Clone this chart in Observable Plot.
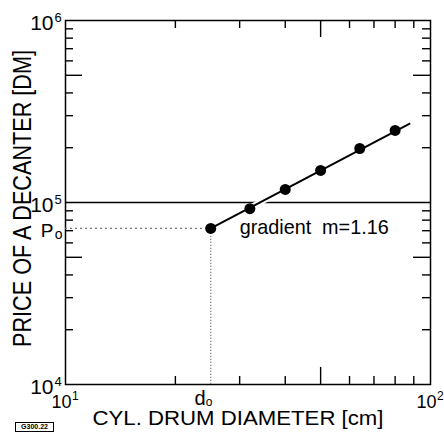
<!DOCTYPE html>
<html>
<head>
<meta charset="utf-8">
<script src="https://cdn.jsdelivr.net/npm/d3@7"></script>
<script src="https://cdn.jsdelivr.net/npm/@observablehq/plot@0.6"></script>
<style>
  html, body { margin: 0; padding: 0; background: #fff; }
  #chart { position: relative; width: 444px; height: 434px; }
  .tag {
    position: absolute; left: 15px; top: 422px; width: 37px; height: 8px;
    border: 1px solid #000; font: bold 7px/8px "Liberation Sans", sans-serif;
    text-align: center; color: #000;
  }
</style>
</head>
<body>
<div id="chart"><div class="tag">G300.22</div></div>
<script>
// Measured decanter prices versus cylindrical drum diameter
const diameters = [25, 32, 40, 50, 64, 80];                    // cm
const prices = [72000, 92500, 118000, 150000, 198000, 249000]; // DM

// Regression line through the measurements
const fitDiameters = [25, 88];
const fitPrices = [72000, 272000];

// Reference level drawn across the chart
const referencePrice = [100000];

// Decade labels
const xDecades = [10, 100];
const xExponents = ["1", "2"];
const yDecades = [1e4, 1e5, 1e6];
const yExponents = ["4", "5", "6"];

// Minor and mid-decade ticks
const xMinor = [20, 30, 40, 60, 70, 80, 90];
const xMid = [50];
const yMinor = [2e4, 3e4, 4e4, 6e4, 7e4, 8e4, 9e4, 2e5, 3e5, 4e5, 6e5, 7e5, 8e5, 9e5];
const yMid = [5e4, 5e5];

const xTitle = "CYL. DRUM DIAMETER [cm]";
const yTitle = "PRICE OF A DECANTER [DM]";
const gradientLabel = "gradient\u00a0\u00a0m=1.16";

const fitLine = fitDiameters.map((d, i) => ({d, p: fitPrices[i]}));
const points = diameters.map((d, i) => ({d, p: prices[i]}));
const p0 = points[0];

const width = 444, height = 434;
const margin = {top: 20, right: 14, bottom: 50, left: 65};
const frameW = width - margin.left - margin.right;
const frameH = height - margin.top - margin.bottom;
const xDomain = [10, 100];
const yDomain = [1e4, 1e6];
const font = "Liberation Sans, Arial, sans-serif";

// Tick lengths in pixels expressed as ratios along the log axes
const xPxPerDecade = frameW / Math.log10(xDomain[1] / xDomain[0]);
const yPxPerDecade = frameH / Math.log10(yDomain[1] / yDomain[0]);
const xRatio = len => Math.pow(10, len / xPxPerDecade);
const yRatio = len => Math.pow(10, len / yPxPerDecade);

// Inward-pointing ticks on all four sides of the frame
const tickMarks = [];
for (const [ticks, len] of [[xMinor, 8], [xMid, 17]]) {
  tickMarks.push(Plot.ruleX(ticks, {x: d => d, y1: yDomain[0], y2: yDomain[0] * yRatio(len), stroke: "#000", strokeWidth: 1.4}));
  tickMarks.push(Plot.ruleX(ticks, {x: d => d, y1: yDomain[1] / yRatio(len), y2: yDomain[1], stroke: "#000", strokeWidth: 1.4}));
}
for (const [ticks, len] of [[yMinor, 8], [yMid, 17]]) {
  tickMarks.push(Plot.ruleY(ticks, {y: d => d, x1: xDomain[0], x2: xDomain[0] * xRatio(len), stroke: "#000", strokeWidth: 1.4}));
  tickMarks.push(Plot.ruleY(ticks, {y: d => d, x1: xDomain[1] / xRatio(len), x2: xDomain[1], stroke: "#000", strokeWidth: 1.4}));
}

const chart = Plot.plot({
  width,
  height,
  marginLeft: margin.left,
  marginRight: margin.right,
  marginTop: margin.top,
  marginBottom: margin.bottom,
  style: {background: "#fff", fontFamily: font, color: "#000"},
  x: {type: "log", domain: xDomain, axis: null},
  y: {type: "log", domain: yDomain, axis: null},
  marks: [
    Plot.frame({stroke: "#000", strokeWidth: 1.5}),
    ...tickMarks,
    // reference level
    Plot.ruleY(referencePrice, {stroke: "#000", strokeWidth: 1.5}),
    // projections of the first point onto the axes
    Plot.ruleY([p0.p], {x1: 10, x2: p0.d, stroke: "#777", strokeWidth: 1.2, strokeDasharray: "2,3"}),
    Plot.ruleX([p0.d], {y1: 1e4, y2: p0.p, stroke: "#777", strokeWidth: 1.2, strokeDasharray: "1.2,1.8"}),
    // regression line with a white gap where it crosses the reference level
    Plot.line(fitLine, {x: "d", y: "p", stroke: "#fff", strokeWidth: 6, strokeLinecap: "butt"}),
    Plot.line(fitLine, {x: "d", y: "p", stroke: "#000", strokeWidth: 2, strokeLinecap: "butt"}),
    Plot.dot(points, {x: "d", y: "p", r: 5.5, fill: "#000"}),
    // gradient annotation
    Plot.text([gradientLabel], {x: 30, y: p0.p, text: d => d, textAnchor: "start", dy: -1, fontSize: 21}),
    // P0 and d0 markers
    Plot.text(["P"], {y: [p0.p], frameAnchor: "left", text: d => d, textAnchor: "end", dx: -12, dy: 2, fontSize: 19}),
    Plot.text(["o"], {y: [p0.p], frameAnchor: "left", text: d => d, textAnchor: "end", dx: -3, dy: 6, fontSize: 14}),
    Plot.text(["d"], {x: [p0.d], frameAnchor: "bottom", lineAnchor: "middle", text: d => d, textAnchor: "end", dx: -5, dy: 14, fontSize: 20}),
    Plot.text(["o"], {x: [p0.d], frameAnchor: "bottom", lineAnchor: "middle", text: d => d, textAnchor: "start", dx: -5, dy: 18, fontSize: 12}),
    // decade labels, y
    Plot.text(yDecades, {y: d => d, frameAnchor: "left", text: () => "10", textAnchor: "end", dx: -12, dy: 3, fontSize: 21}),
    Plot.text(yDecades, {y: d => d, frameAnchor: "left", text: (d, i) => yExponents[i], textAnchor: "start", dx: -11, dy: -3, fontSize: 13}),
    // decade labels, x
    Plot.text(xDecades, {x: d => d, frameAnchor: "bottom", lineAnchor: "middle", text: () => "10", textAnchor: "end", dx: 6, dy: 18, fontSize: 18}),
    Plot.text(xDecades, {x: d => d, frameAnchor: "bottom", lineAnchor: "middle", text: (d, i) => xExponents[i], textAnchor: "start", dx: 6.5, dy: 12, fontSize: 12}),
    // axis titles
    Plot.text([xTitle], {frameAnchor: "bottom", lineAnchor: "middle", text: d => d, textAnchor: "middle", dx: -10, dy: 34, fontSize: 19.5}),
    Plot.text([yTitle], {frameAnchor: "left", text: d => d, textAnchor: "middle", rotate: -90, dx: -42.5, dy: -4, fontSize: 25})
  ]
});

// Fit the titles and the annotation to their lettering widths
const fitText = (content, len) =>
  d3.select(chart).selectAll("text")
    .filter(function () { return this.textContent === content; })
    .attr("textLength", len)
    .attr("lengthAdjust", "spacingAndGlyphs");
fitText(xTitle, 291);
fitText(yTitle, 297);
fitText(gradientLabel, 149);

document.getElementById("chart").prepend(chart);
</script>
</body>
</html>
